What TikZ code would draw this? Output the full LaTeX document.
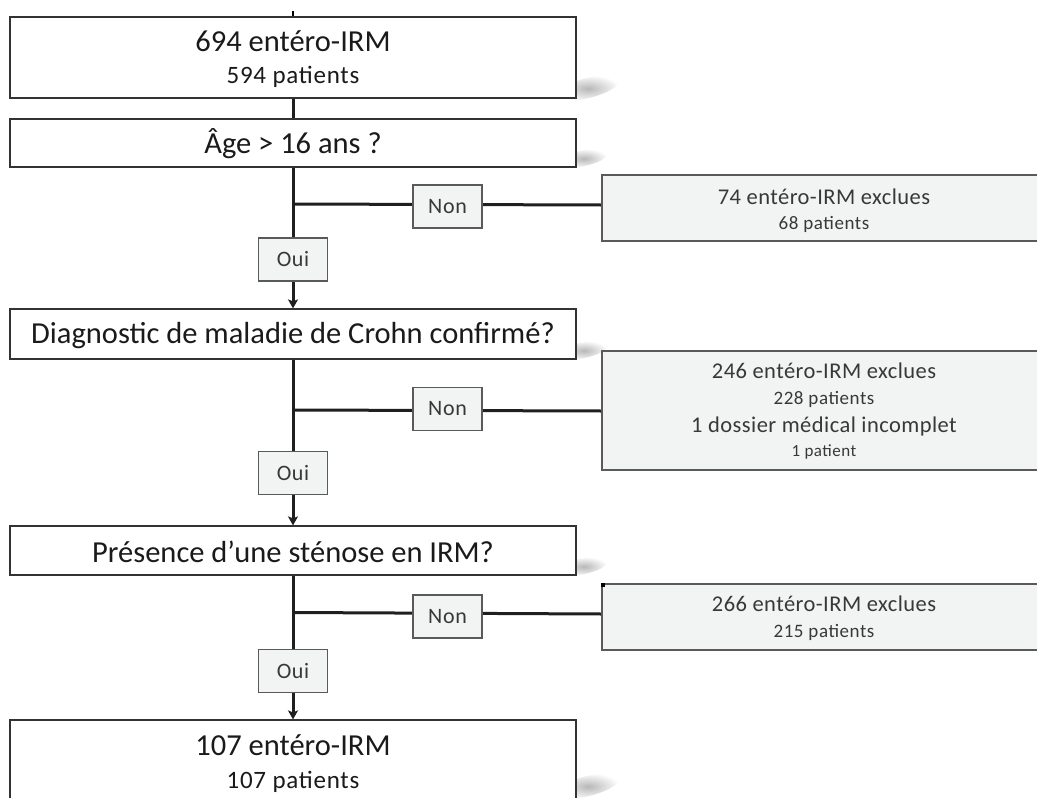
\documentclass[tikz,border=0pt]{standalone}
\usepackage{fontspec}
\setmainfont{Carlito}
\newfontfamily\widefont[LetterSpace=3]{Carlito}
\newfontfamily\midfont[LetterSpace=2]{Carlito}
\usetikzlibrary{arrows.meta}
\definecolor{boxfill}{HTML}{F2F3F3}
\definecolor{txtgray}{HTML}{383838}
\definecolor{edgegray}{HTML}{5A5A5A}
\definecolor{maintext}{HTML}{1A1A1A}
\pgfdeclarelayer{bg}
\pgfsetlayers{bg,main}
\begin{document}
\begin{tikzpicture}[x=1pt,y=-1pt,
  mainbox/.style={draw=black!80, line width=1.2pt, fill=white, minimum width=566pt, inner sep=0pt},
  graybox/.style={draw=edgegray, line width=1.1pt, fill=boxfill, inner sep=0pt},
  exclbox/.style={graybox, minimum width=444pt},
  tagbox/.style={graybox, minimum width=69pt, minimum height=43pt, text=txtgray, font=\widefont\fontsize{22}{26}\selectfont},
  txtmain/.style={anchor=base, inner sep=0pt, text=maintext, font=\fontsize{30.5}{36}\selectfont},
  txtsub/.style={anchor=base, inner sep=0pt, text=maintext, font=\widefont\fontsize{25}{30}\selectfont},
  txtexcl/.style={anchor=base, inner sep=0pt, text=txtgray, font=\midfont\fontsize{22.5}{27}\selectfont},
  txtexclsub/.style={anchor=base, inner sep=0pt, text=txtgray, font=\widefont\fontsize{19}{23}\selectfont},
  conn/.style={line width=3pt, draw=black!88},
  arr/.style={conn, -{Stealth[length=9pt,width=10pt,inset=2pt]}},
  shadowblob/.style={inner color=black!28, outer color=white}
]
\useasboundingbox (0,0) rectangle (1037,798);
\clip (0,0) rectangle (1037,798);

% main boxes
\node[mainbox, minimum height=81pt] (b1) at (293,57.5) {};
\node[txtmain] (b1t) at (293,51) {694 entéro-IRM};
\node[txtsub] (b1s) at (293,83) {594 patients};

\node[mainbox, minimum height=48pt] (q1) at (293,143) {};
\node[txtmain] (q1t) at (293,153) {Âge > 16 ans ?};

\node[mainbox, minimum height=50pt] (q2) at (293,334) {};
\node[txtmain] (q2t) at (293,343) {Diagnostic de maladie de Crohn confirmé?};

\node[mainbox, minimum height=49pt] (q3) at (293,550.5) {};
\node[txtmain] (q3t) at (293,562) {Présence d’une sténose en IRM?};

\node[mainbox, minimum height=81pt] (b2) at (293,760.5) {};
\node[txtmain] (b2t) at (293,755) {107 entéro-IRM};
\node[txtsub] (b2s) at (293,788) {107 patients};

% exclusion boxes
\node[exclbox, minimum height=66pt] (r1) at (824,208) {};
\node[txtexcl] (r1t) at (824,204) {74 entéro-IRM exclues};
\node[txtexclsub] (r1s) at (824,229) {68 patients};

\node[exclbox, minimum height=119pt] (r2) at (824,410.5) {};
\node[txtexcl] (r2t) at (824,378) {246 entéro-IRM exclues};
\node[txtexclsub] (r2s) at (824,404) {228 patients};
\node[txtexcl] (r2u) at (824,432) {1 dossier médical incomplet};
\node[txtexclsub, font=\widefont\fontsize{17}{20}\selectfont] (r2v) at (824,456) {1 patient};

\node[exclbox, minimum height=66pt] (r3) at (824,617) {};
\node[txtexcl] (r3t) at (824,611) {266 entéro-IRM exclues};
\node[txtexclsub] (r3s) at (824,637) {215 patients};
\fill[black] (r3.north west) rectangle ++(4,4);

% labels on connectors
\node[tagbox] (n1) at (447.5,206.5) {Non};
\node[tagbox] (n2) at (447.5,409) {Non};
\node[tagbox] (n3) at (447.5,616.5) {Non};
\node[tagbox] (o1) at (293,259.5) {Oui};
\node[tagbox] (o2) at (293,473) {Oui};
\node[tagbox] (o3) at (293,671) {Oui};

% junctions
\coordinate (j1) at (q1.south |- 0,204);
\coordinate (j2) at (q2.south |- 0,410);
\coordinate (j3) at (q3.south |- 0,612.5);

\begin{pgfonlayer}{bg}
  % soft shadows
  \shade[shadowblob, rotate around={14:(588,88)}] (588,88) ellipse (32 and 10);
  \shade[shadowblob, rotate around={12:(584,158)}] (584,158) ellipse (24 and 8);
  \shade[shadowblob, rotate around={12:(584,350)}] (584,350) ellipse (24 and 8);
  \shade[shadowblob, rotate around={12:(584,566)}] (584,566) ellipse (24 and 8);
  \shade[shadowblob, rotate around={14:(588,786)}] (588,786) ellipse (32 and 10);
  % connectors
  \draw[line width=2pt] (b1.north) -- ++(0,-5);
  \draw[conn] (b1.south) -- (q1.north);
  \draw[arr] (q1.south) -- (q2.north);
  \draw[arr] (q2.south) -- (q3.north);
  \draw[arr] (q3.south) -- (b2.north);
  \draw[conn] (j1) -- ([yshift=3pt]r1.west);
  \draw[conn] (j2) -- ([yshift=-0.5pt]r2.west);
  \draw[conn] (j3) -- ([yshift=3pt]r3.west);
\end{pgfonlayer}
\end{tikzpicture}
\end{document}
